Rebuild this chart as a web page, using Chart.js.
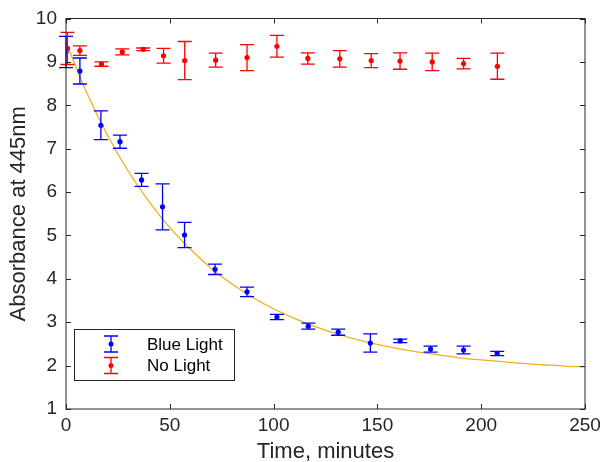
<!DOCTYPE html>
<html>
<head>
<meta charset="utf-8">
<script src="https://cdn.jsdelivr.net/npm/chart.js@4"></script>
<style>
  html, body { margin: 0; padding: 0; background: #fff; }
  #wrap { width: 600px; height: 462px; }
</style>
</head>
<body>
<div id="wrap"><canvas id="absChart" width="600" height="462"></canvas></div>
<script>
// Blue light samples
const timeBlue = [0, 6.7, 16.8, 26, 36.4, 46.5, 57.1, 71.8, 87.2, 101.6, 116.7, 131.1, 146.6, 161, 175.6, 191.5, 207.7];
const absBlue = [9.23, 8.79, 7.54, 7.16, 6.28, 5.66, 5.01, 4.22, 3.70, 3.12, 2.91, 2.77, 2.52, 2.57, 2.38, 2.36, 2.28];
const errBlue = [0.36, 0.30, 0.33, 0.15, 0.15, 0.53, 0.29, 0.12, 0.11, 0.06, 0.07, 0.07, 0.21, 0.04, 0.07, 0.09, 0.05];

// No light samples
const timeRed = [0.7, 6.7, 17.1, 27.1, 37.2, 47, 57.2, 72.1, 87.2, 101.6, 116.5, 131.9, 147, 160.9, 176.4, 191.5, 207.8];
const absRed = [9.31, 9.26, 8.95, 9.23, 9.29, 9.14, 9.03, 9.04, 9.10, 9.36, 9.08, 9.07, 9.03, 9.02, 9.00, 8.96, 8.90];
const errRed = [0.37, 0.11, 0.05, 0.07, 0.03, 0.17, 0.44, 0.16, 0.30, 0.25, 0.13, 0.19, 0.16, 0.19, 0.20, 0.12, 0.30];

// fitted decay curve
const fitTime = [0, 10, 20, 30, 40, 50, 60, 70, 80, 90, 100, 110, 120, 130, 140, 150, 160, 170, 180, 190, 200, 210, 220, 230, 240, 250];
const fitAbs = [9.45, 8.29, 7.31, 6.48, 5.78, 5.18, 4.68, 4.24, 3.88, 3.57, 3.31, 3.09, 2.90, 2.74, 2.60, 2.49, 2.39, 2.31, 2.24, 2.18, 2.13, 2.09, 2.05, 2.02, 1.99, 1.97];

const seriesLabels = ["Blue Light", "No Light"];
const xTicks = [0, 50, 100, 150, 200, 250];
const yTicks = [1, 2, 3, 4, 5, 6, 7, 8, 9, 10];

const FONT = 'Helvetica, Arial, "Liberation Sans", sans-serif';
const INK = "#262626";

const toPoints = (xs, ys) => xs.map((x, i) => ({ x, y: ys[i] }));

// error bars + box ticks + legend
const matlabLook = {
  id: "matlabLook",
  afterDatasetsDraw(chart) {
    const { ctx, chartArea: a, scales: { x, y } } = chart;
    ctx.save();
    chart.data.datasets.forEach((ds) => {
      if (!ds.err) return;
      ctx.strokeStyle = ds.borderColor;
      ctx.lineWidth = 1.3;
      ds.data.forEach((p, i) => {
        const px = x.getPixelForValue(p.x);
        const top = y.getPixelForValue(p.y + ds.err[i]);
        const bot = y.getPixelForValue(p.y - ds.err[i]);
        ctx.beginPath();
        ctx.moveTo(px, top); ctx.lineTo(px, bot);
        ctx.moveTo(px - 7, top); ctx.lineTo(px + 7, top);
        ctx.moveTo(px - 7, bot); ctx.lineTo(px + 7, bot);
        ctx.stroke();
      });
    });

    // box and inward ticks
    ctx.strokeStyle = INK;
    ctx.lineWidth = 1;
    ctx.strokeRect(a.left, a.top, a.right - a.left, a.bottom - a.top);
    ctx.beginPath();
    xTicks.forEach((v) => {
      const px = Math.round(x.getPixelForValue(v)) + 0.5;
      ctx.moveTo(px, a.bottom); ctx.lineTo(px, a.bottom - 5);
      ctx.moveTo(px, a.top); ctx.lineTo(px, a.top + 5);
    });
    yTicks.forEach((v) => {
      const py = Math.round(y.getPixelForValue(v)) + 0.5;
      ctx.moveTo(a.left, py); ctx.lineTo(a.left + 5, py);
      ctx.moveTo(a.right, py); ctx.lineTo(a.right - 5, py);
    });
    ctx.stroke();

    // legend
    const lx = a.left + 8, ly = a.bottom - 80, lw = 160, lh = 51;
    ctx.fillStyle = "#fff";
    ctx.fillRect(lx, ly, lw, lh);
    ctx.strokeStyle = INK;
    ctx.strokeRect(lx + 0.5, ly + 0.5, lw, lh);
    ctx.font = "17px " + FONT;
    ctx.textBaseline = "middle";
    const cols = ["#0000ff", "#ff0000"];
    seriesLabels.forEach((lab, i) => {
      const cy = ly + 15 + i * 21.5;
      const sx = lx + 37;
      ctx.strokeStyle = cols[i];
      ctx.lineWidth = 1.3;
      ctx.beginPath();
      ctx.moveTo(sx, cy - 8); ctx.lineTo(sx, cy + 8);
      ctx.moveTo(sx - 7, cy - 8); ctx.lineTo(sx + 7, cy - 8);
      ctx.moveTo(sx - 7, cy + 8); ctx.lineTo(sx + 7, cy + 8);
      ctx.stroke();
      ctx.fillStyle = cols[i];
      ctx.beginPath();
      ctx.arc(sx, cy, 2.5, 0, Math.PI * 2);
      ctx.fill();
      ctx.fillStyle = "#000";
      ctx.fillText(lab, lx + 73, cy + 1);
    });
    ctx.restore();
  },
};

new Chart(document.getElementById("absChart"), {
  type: "scatter",
  data: {
    datasets: [
      {
        label: seriesLabels[0],
        data: toPoints(timeBlue, absBlue),
        err: errBlue,
        borderColor: "#0000ff",
        backgroundColor: "#0000ff",
        pointRadius: 2.6,
        pointBorderWidth: 0,
      },
      {
        label: seriesLabels[1],
        data: toPoints(timeRed, absRed),
        err: errRed,
        borderColor: "#ff0000",
        backgroundColor: "#ff0000",
        pointRadius: 2.6,
        pointBorderWidth: 0,
      },
      {
        label: "fit",
        data: toPoints(fitTime, fitAbs),
        showLine: true,
        borderColor: "#EDB120",
        borderWidth: 1.3,
        pointRadius: 0,
        cubicInterpolationMode: "monotone",
        order: 5,
      },
    ],
  },
  options: {
    responsive: false,
    animation: false,
    layout: { padding: { top: 8, right: 15, left: 8, bottom: 0 } },
    plugins: {
      legend: { display: false },
      tooltip: { enabled: false },
    },
    scales: {
      x: {
        type: "linear",
        min: 0,
        max: 250,
        afterBuildTicks: (s) => { s.ticks = xTicks.map((v) => ({ value: v })); },
        afterFit: (s) => { s.paddingRight = 0; s.paddingLeft = 0; s.height = 53; },
        grid: { display: false, drawTicks: false },
        border: { display: false },
        ticks: { color: INK, padding: 7, font: { family: FONT, size: 19, lineHeight: 1 }, maxRotation: 0 },
        title: { display: true, text: "Time, minutes", color: INK, padding: { top: 6, bottom: 0 }, font: { family: FONT, size: 22, lineHeight: 0.95 } },
      },
      y: {
        type: "linear",
        min: 1,
        max: 10,
        afterBuildTicks: (s) => { s.ticks = yTicks.map((v) => ({ value: v })); },
        afterFit: (s) => { s.width = 58; },
        grid: { display: false, drawTicks: false },
        border: { display: false },
        ticks: { color: INK, padding: 9, font: { family: FONT, size: 19, lineHeight: 1 } },
        title: { display: true, text: "Absorbance at 445nm", color: INK, padding: { top: 0, bottom: 6 }, font: { family: FONT, size: 22, lineHeight: 1 } },
      },
    },
  },
  plugins: [matlabLook],
});
</script>
</body>
</html>
